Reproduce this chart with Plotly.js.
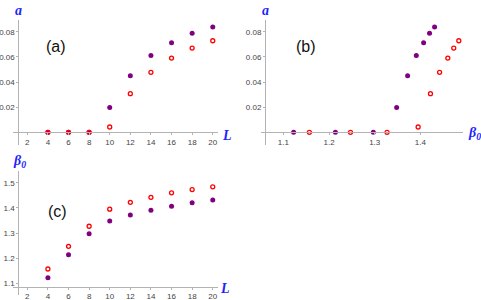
<!DOCTYPE html>
<html><head><meta charset="utf-8">
<script src="https://cdn.plot.ly/plotly-3.0.1.min.js"></script>
<style>body{margin:0;padding:0;background:#fff}#chart{width:481px;height:300px}</style>
</head><body><div id="chart"></div>
<script>
// Data
const L = [4, 6, 8, 10, 12, 14, 16, 18, 20];
const aPurple = [0, 0, 0, 0.0197, 0.0450, 0.0610, 0.0712, 0.0787, 0.0838];
const aRed    = [0, 0, 0, 0.0042, 0.0307, 0.0477, 0.0590, 0.0670, 0.0728];
const betaPurple = [1.1225, 1.214, 1.297, 1.348, 1.372, 1.391, 1.407, 1.420, 1.431];
const betaRed    = [1.157, 1.247, 1.327, 1.395, 1.422, 1.442, 1.460, 1.473, 1.484];
const tickL = [2, 4, 6, 8, 10, 12, 14, 16, 18, 20];
const tickA = [0.02, 0.04, 0.06, 0.08];
const tickB0x = [1.1, 1.2, 1.3, 1.4];
const tickB0y = [1.1, 1.2, 1.3, 1.4, 1.5];

const W = 481, H = 300;
const px = x => x / W, py = y => 1 - y / H;
const purple = '#800080', red = '#ff0000', blue = '#1f1fff';

function pTrace(x, y, xa, ya) {
  return {x, y, xaxis: xa, yaxis: ya, type: 'scatter', mode: 'markers', cliponaxis: false,
    marker: {color: purple, size: 5, line: {width: 0}}, hoverinfo: 'skip'};
}
function rTrace(x, y, xa, ya) {
  return {x, y, xaxis: xa, yaxis: ya, type: 'scatter', mode: 'markers', cliponaxis: false,
    marker: {symbol: 'circle-open', color: red, size: 4, line: {width: 1.3, color: red}}, hoverinfo: 'skip'};
}
const data = [
  pTrace(L, aPurple, 'x', 'y'), rTrace(L, aRed, 'x', 'y'),
  pTrace(betaPurple, aPurple, 'x2', 'y2'), rTrace(betaRed, aRed, 'x2', 'y2'),
  pTrace(L, betaPurple, 'x3', 'y3'), rTrace(L, betaRed, 'x3', 'y3')
];

const tickFont = {family: 'Liberation Sans, Arial, sans-serif', size: 8, color: '#444'};
function ax(extra) {
  return Object.assign({showgrid: false, zeroline: false, showline: true, linecolor: '#b3b3b3', linewidth: 1,
    ticks: 'outside', ticklen: 2, tickcolor: '#b3b3b3', tickfont: tickFont, anchor: 'free', fixedrange: true}, extra);
}
const layout = {
  width: W, height: H, autosize: false, margin: {l: 0, r: 0, t: 0, b: 0},
  paper_bgcolor: '#fff', plot_bgcolor: 'rgba(0,0,0,0)', showlegend: false,
  xaxis:  ax({domain: [px(13.3), px(218)], range: [0.641, 20.51], position: py(132.3), tickvals: tickL, ticktext: tickL.map(String)}),
  yaxis:  ax({domain: [py(145), py(20)], range: [-0.0101, 0.0893], position: px(18.3), tickvals: tickA, ticktext: tickA.map(v => v.toFixed(2))}),
  xaxis2: ax({domain: [px(260.7), px(463)], range: [1.0505, 1.4932], position: py(132.3), tickvals: tickB0x, ticktext: tickB0x.map(v => v.toFixed(1))}),
  yaxis2: ax({domain: [py(145), py(20)], range: [-0.0101, 0.0893], position: px(265), tickvals: tickA, ticktext: tickA.map(v => v.toFixed(2))}),
  xaxis3: ax({domain: [px(13.3), px(218)], range: [0.641, 20.51], position: py(286.7), tickvals: tickL, ticktext: tickL.map(String)}),
  yaxis3: ax({domain: [py(295), py(170.7)], range: [1.0535, 1.548], position: px(18.3), tickvals: tickB0y, ticktext: tickB0y.map(v => v.toFixed(1))}),
  annotations: []
};
const axFont = {family: 'Liberation Serif, Times New Roman, serif', size: 14, color: blue, weight: 'bold', style: 'italic'};
function lab(text, x, y, font) {
  layout.annotations.push({text, x: px(x), y: py(y), xref: 'paper', yref: 'paper', showarrow: false,
    xanchor: 'center', yanchor: 'middle', font});
}
lab('<b><i>a</i></b>', 18.5, 10.5, axFont);
lab('<b><i>L</i></b>', 227, 135, axFont);
lab('<b><i>a</i></b>', 265, 10.5, axFont);
lab('<b><i>β<sub>0</sub></i></b>', 474, 133, axFont);
lab('<b><i>β<sub>0</sub></i></b>', 19, 161, axFont);
lab('<b><i>L</i></b>', 225, 288, axFont);
const pf = {family: 'Liberation Sans, Arial, sans-serif', size: 16, color: '#111'};
lab('(a)', 56, 46, pf);
lab('(b)', 305.5, 46, pf);
lab('(c)', 57.5, 211, pf);

Plotly.newPlot('chart', data, layout, {displayModeBar: false, staticPlot: true});
</script></body></html>
